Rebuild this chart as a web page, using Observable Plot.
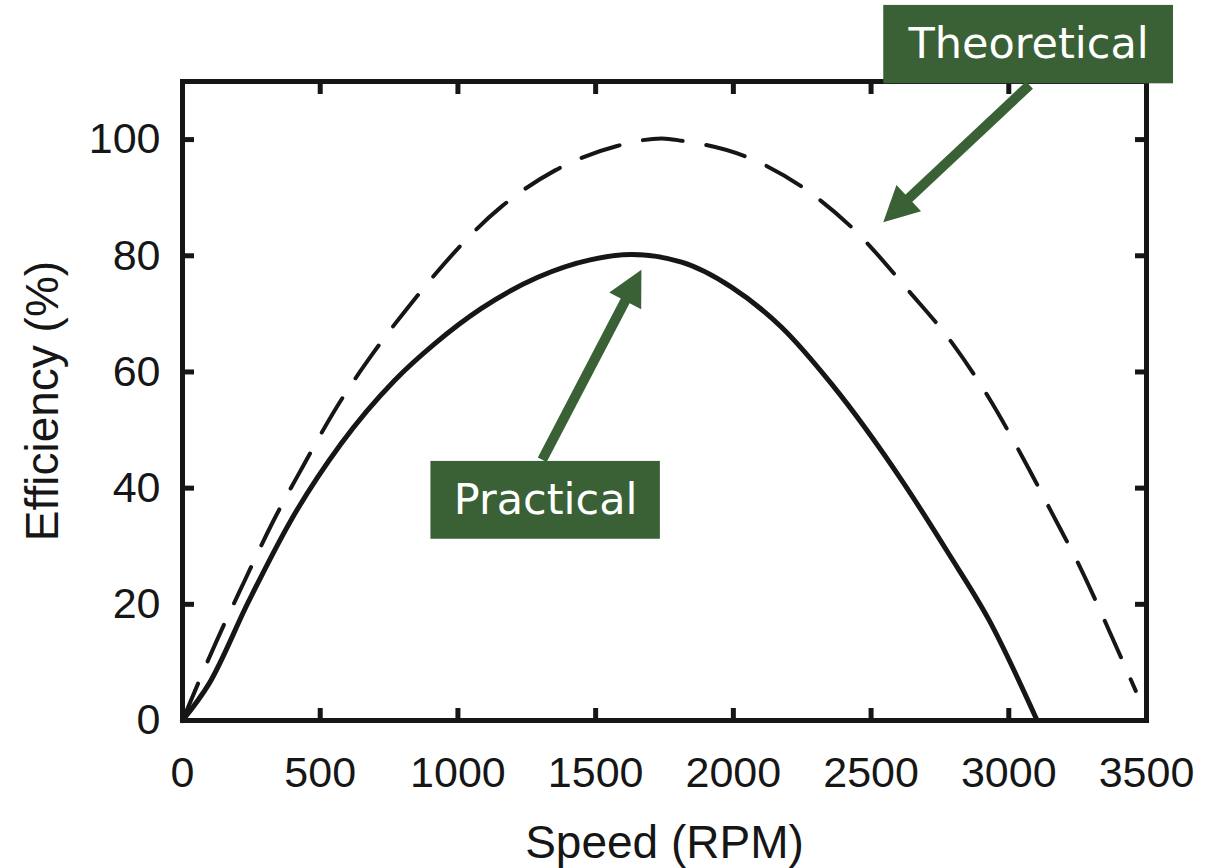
<!DOCTYPE html>
<html>
<head>
<meta charset="utf-8">
<script src="https://cdn.jsdelivr.net/npm/d3@7"></script>
<script src="https://cdn.jsdelivr.net/npm/@observablehq/plot@0.6"></script>
<style>
  html, body { margin: 0; padding: 0; background: #ffffff; }
  #chart { width: 1223px; height: 868px; }
</style>
</head>
<body>
<div id="chart"></div>
<script>
// ---- data ----
const speedTicks = [0, 500, 1000, 1500, 2000, 2500, 3000, 3500];
const effTicks = [0, 20, 40, 60, 80, 100];

const practicalSpeed = [0, 96, 240, 393, 575, 769, 914, 1084, 1290, 1480, 1630, 1812, 1993, 2175, 2357, 2612, 2782, 2927, 3103];
const practicalEff   = [0, 6.3, 20.5, 34.4, 47.6, 58.5, 64.8, 70.9, 76.3, 79.3, 80.2, 78.9, 74.6, 67.7, 57.9, 41.3, 28.7, 17.4, 0];

const theoreticalSpeed = [0, 122, 223, 326, 439, 558, 690, 815, 1159, 1353, 1578, 1740, 1813, 2044, 2251, 2436, 2636, 2794, 2927, 3048, 3157, 3267, 3364, 3461];
const theoreticalEff   = [0, 13.5, 23.8, 34.0, 43.9, 53.8, 63.1, 70.9, 88.5, 94.7, 98.9, 100.2, 99.8, 97.1, 91.8, 84.6, 74.0, 65.0, 55.6, 45.5, 35.7, 25.6, 15.5, 5.1];

// annotation boxes and arrows (data units)
const noteLabels   = ["Theoretical", "Practical"];
const noteSpeed1   = [2546, 902];
const noteSpeed2   = [3598, 1735];
const noteEff1     = [109.6, 31.2];
const noteEff2     = [123.1, 44.6];
const arrowFromSpeed = [3077, 1308];
const arrowFromEff   = [109.3, 44.8];
const arrowToSpeed   = [2546, 1668];
const arrowToEff     = [85.7, 77.5];

// ---- tables built from the arrays ----
const practical = practicalSpeed.map((s, i) => ({speed: s, eff: practicalEff[i]}));
const theoretical = theoreticalSpeed.map((s, i) => ({speed: s, eff: theoreticalEff[i]}));
const notes = noteLabels.map((t, i) => ({
  label: t, x1: noteSpeed1[i], x2: noteSpeed2[i], y1: noteEff1[i], y2: noteEff2[i],
  cx: (noteSpeed1[i] + noteSpeed2[i]) / 2, cy: (noteEff1[i] + noteEff2[i]) / 2
}));
const arrows = noteLabels.map((t, i) => ({
  x1: arrowFromSpeed[i], y1: arrowFromEff[i], x2: arrowToSpeed[i], y2: arrowToEff[i]
}));

const GREEN = "#3a6136";
const INK = "#161616";

function arrowMark(index, scales) {
  const ns = "http://www.w3.org/2000/svg";
  const g = document.createElementNS(ns, "g");
  const {x, y} = scales;
  for (const a of arrows) {
    const x1 = x(a.x1), y1 = y(a.y1), x2 = x(a.x2), y2 = y(a.y2);
    const dx = x2 - x1, dy = y2 - y1, L = Math.hypot(dx, dy);
    const ux = dx / L, uy = dy / L, px = -uy, py = ux;
    const hl = 35, hw = 18;
    const bx = x2 - ux * hl, by = y2 - uy * hl;
    const line = document.createElementNS(ns, "line");
    line.setAttribute("x1", x1); line.setAttribute("y1", y1);
    line.setAttribute("x2", bx + ux * 3); line.setAttribute("y2", by + uy * 3);
    line.setAttribute("stroke", GREEN); line.setAttribute("stroke-width", 10);
    g.appendChild(line);
    const head = document.createElementNS(ns, "polygon");
    head.setAttribute("points", `${x2},${y2} ${bx + px * hw},${by + py * hw} ${bx - px * hw},${by - py * hw}`);
    head.setAttribute("fill", GREEN);
    g.appendChild(head);
  }
  return g;
}

const chart = Plot.plot({
  width: 1223,
  height: 868,
  marginLeft: 182,
  marginRight: 77,
  marginTop: 81,
  marginBottom: 148,
  style: {fontFamily: "'Liberation Sans', Arial, Helvetica, sans-serif", fontSize: "43px", color: INK, background: "#ffffff"},
  x: {domain: [0, 3500]},
  y: {domain: [0, 110]},
  marks: [
    // tick labels and axis titles
    Plot.axisX({anchor: "bottom", ticks: speedTicks, tickSize: 0, tickPadding: 36, tickFormat: d => String(d), label: null}),
    Plot.axisY({anchor: "left", ticks: effTicks, tickSize: 0, tickPadding: 22, tickFormat: d => String(d), label: null}),
    Plot.text(["Speed (RPM)"], {frameAnchor: "bottom", dy: 137, text: d => d, fontSize: 46, textAnchor: "middle", lineAnchor: "bottom", fill: INK}),
    Plot.text(["Efficiency (%)"], {frameAnchor: "left", dx: -157, rotate: -90, text: d => d, fontSize: 46, textAnchor: "middle", lineAnchor: "top", fill: INK}),
    // inward ticks on all four sides
    Plot.axisX({anchor: "bottom", ticks: speedTicks, tickSize: 12, dy: -12, strokeWidth: 5, tickFormat: () => "", label: null}),
    Plot.axisX({anchor: "top", ticks: speedTicks, tickSize: 12, dy: 12, strokeWidth: 5, tickFormat: () => "", label: null}),
    Plot.axisY({anchor: "left", ticks: effTicks, tickSize: 12, dx: 12, strokeWidth: 5, tickFormat: () => "", label: null}),
    Plot.axisY({anchor: "right", ticks: effTicks, tickSize: 12, dx: -12, strokeWidth: 5, tickFormat: () => "", label: null}),
    // curves
    Plot.line(theoretical, {x: "speed", y: "eff", curve: "monotone-x", stroke: INK, strokeWidth: 4, strokeDasharray: "40,24"}),
    Plot.line(practical, {x: "speed", y: "eff", curve: "monotone-x", stroke: INK, strokeWidth: 5}),
    Plot.frame({stroke: INK, strokeWidth: 5}),
    // annotations
    arrowMark,
    Plot.rect(notes, {x1: "x1", x2: "x2", y1: "y1", y2: "y2", fill: GREEN}),
    Plot.text(notes, {x: "cx", y: "cy", text: "label", fill: "#ffffff", fontSize: 43,
      fontFamily: "'DejaVu Sans', Verdana, sans-serif", textAnchor: "middle", lineAnchor: "middle"})
  ]
});

document.getElementById("chart").appendChild(chart);
</script>
</body>
</html>
